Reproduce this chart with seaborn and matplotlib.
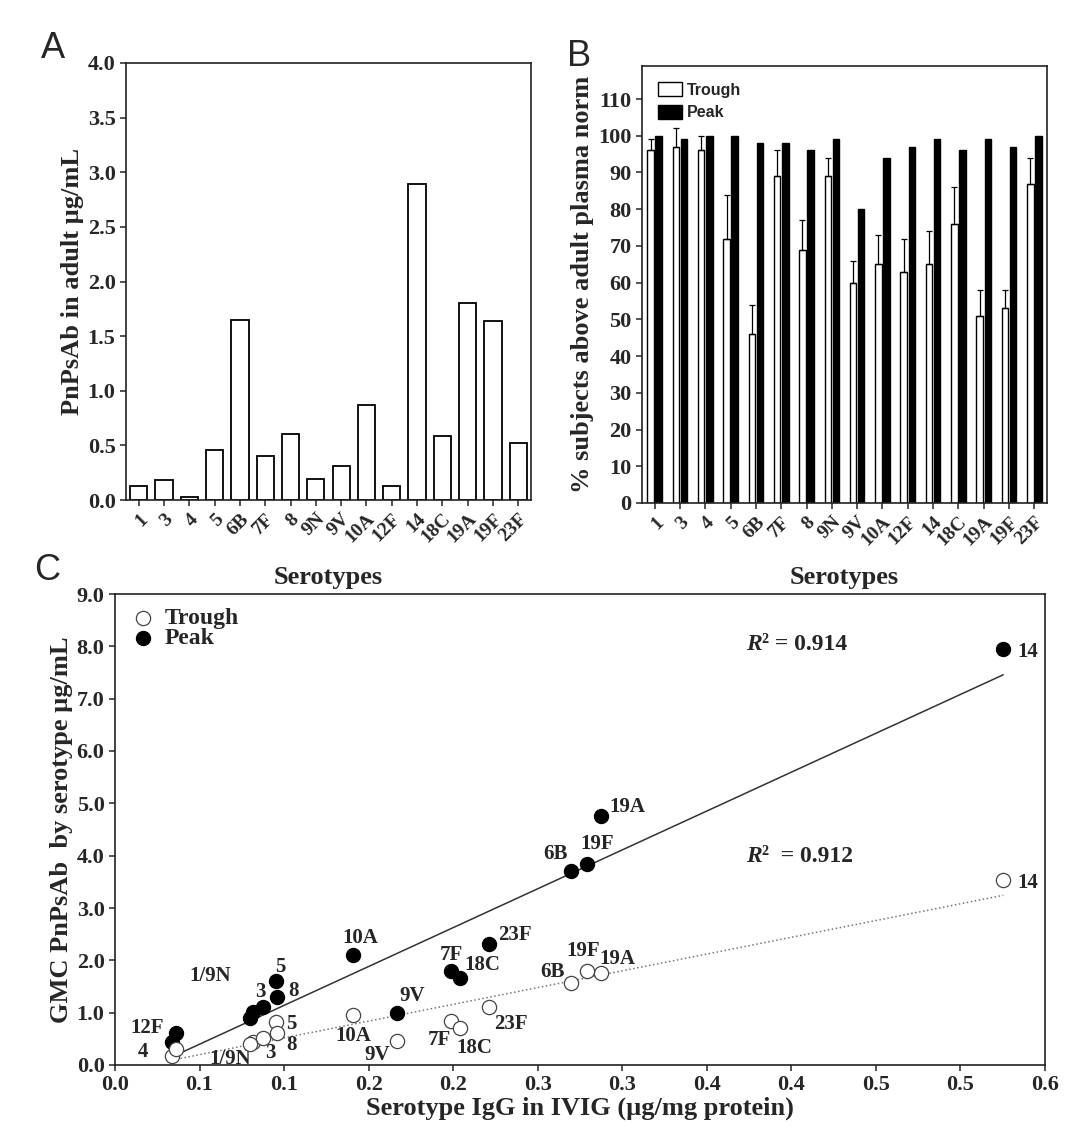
import numpy as np
import pandas as pd
import matplotlib
matplotlib.use('Agg')
import matplotlib.pyplot as plt
import seaborn as sns

# serotypes shared by all three panels
serotypes = ['1', '3', '4', '5', '6B', '7F', '8', '9N', '9V', '10A', '12F', '14', '18C', '19A', '19F', '23F']

# A: adult plasma norm (ug/mL)
adult_norm = [0.13, 0.18, 0.03, 0.46, 1.65, 0.40, 0.60, 0.19, 0.31, 0.87, 0.13, 2.89, 0.59, 1.80, 1.64, 0.52]

# B: % subjects above adult norm
pct_trough = [96, 97, 96, 72, 46, 89, 69, 89, 60, 65, 63, 65, 76, 51, 53, 87]
pct_trough_err = [3, 5, 4, 12, 8, 7, 8, 5, 6, 8, 9, 9, 10, 7, 5, 7]
pct_peak = [100, 99, 100, 100, 98, 98, 96, 99, 80, 94, 97, 99, 96, 99, 97, 100]

# C: serotype IgG in IVIG vs GMC
igg_ivig = [0.0815, 0.0877, 0.034, 0.0952, 0.2697, 0.1987, 0.0956, 0.080, 0.1668, 0.1409,
            0.0361, 0.5253, 0.2042, 0.2874, 0.2793, 0.2210]
gmc_peak = [1.02, 1.10, 0.44, 1.61, 3.71, 1.79, 1.30, 0.89, 1.00, 2.10, 0.62, 7.94, 1.67, 4.75, 3.85, 2.32]
gmc_trough = [0.44, 0.52, 0.17, 0.83, 1.56, 0.84, 0.62, 0.40, 0.46, 0.95, 0.30, 3.54, 0.70, 1.76, 1.80, 1.11]
r2_peak = '0.914'
r2_trough = '0.912'
c_xtick_labels = ['0.0', '0.1', '0.1', '0.2', '0.2', '0.3', '0.3', '0.4', '0.4', '0.5', '0.5', '0.6']

sns.set_style('ticks')
plt.rcParams['font.family'] = ['Liberation Serif', 'DejaVu Serif']
plt.rcParams['font.weight'] = 'bold'
plt.rcParams['axes.labelweight'] = 'bold'
plt.rcParams['axes.linewidth'] = 1.2
plt.rcParams['axes.edgecolor'] = '#222222'

W, H = 1075, 1134
fig = plt.figure(figsize=(W / 100, H / 100), dpi=100)


def px_axes(left, top, right, bottom):
    return fig.add_axes([left / W, 1 - bottom / H, (right - left) / W, (bottom - top) / H])


axA = px_axes(126, 63, 531, 500)
axB = px_axes(642, 66, 1047, 503)
axC = px_axes(115, 594, 1045, 1065)

tick_fs = 16
label_fs = 19

# ---- Panel A
dfA = pd.DataFrame({'Serotype': serotypes, 'PnPsAb': adult_norm})
sns.barplot(data=dfA, x='Serotype', y='PnPsAb', color='white', edgecolor='black',
            linewidth=1.3, width=0.68, ax=axA)
axA.set_ylim(0, 4.0)
axA.set_xlim(-0.5, len(serotypes) - 0.5)
axA.set_yticks(np.arange(0, 4.01, 0.5))
axA.set_yticklabels([f'{v:.1f}' for v in np.arange(0, 4.01, 0.5)])
axA.set_ylabel('PnPsAb in adult µg/mL', fontsize=label_fs, labelpad=3)
axA.set_xlabel('Serotypes', fontsize=label_fs, labelpad=14)

# ---- Panel B
dfB = pd.DataFrame({
    'Serotype': serotypes * 2,
    'Phase': ['Trough'] * len(serotypes) + ['Peak'] * len(serotypes),
    'Percent': pct_trough + pct_peak,
})
sns.barplot(data=dfB, x='Serotype', y='Percent', hue='Phase',
            palette={'Trough': 'white', 'Peak': 'black'}, edgecolor='black',
            linewidth=1.0, width=0.64, gap=0.2, errorbar=None, ax=axB)
trough_bars = axB.containers[0]
xc = [b.get_x() + b.get_width() / 2 for b in trough_bars]
axB.errorbar(xc, pct_trough, yerr=[np.zeros(len(pct_trough)), pct_trough_err],
             fmt='none', ecolor='black', elinewidth=0.9, capsize=2.5, capthick=0.9)
axB.set_ylim(0, 119)
axB.set_xlim(-0.5, len(serotypes) - 0.5)
axB.set_yticks(np.arange(0, 111, 10))
axB.set_ylabel('% subjects above adult plasma norm', fontsize=label_fs, labelpad=3)
axB.set_xlabel('Serotypes', fontsize=label_fs, labelpad=12)
axB.legend(loc='upper left', frameon=False, prop={'family': 'Liberation Sans', 'size': 11.5},
           handlelength=1.5, handleheight=1.0, labelspacing=0.45, handletextpad=0.3,
           borderaxespad=0.6, title=None)

for ax in (axA, axB):
    for s in ax.spines.values():
        s.set_visible(True)
    ax.tick_params(axis='both', direction='out', length=4, width=1.1, labelsize=tick_fs,
                   top=False, right=False)
    for lab in ax.get_xticklabels():
        lab.set_rotation(45)
        lab.set_ha('right')
        lab.set_rotation_mode('anchor')
        lab.set_fontsize(14)

# ---- Panel C
dfC = pd.DataFrame({'Serotype': serotypes, 'IgG': igg_ivig,
                    'Peak': gmc_peak, 'Trough': gmc_trough})
sns.regplot(data=dfC, x='IgG', y='Peak', scatter=False, ci=None, truncate=True,
            line_kws={'color': '#333333', 'lw': 1.1, 'ls': '-'}, ax=axC)
sns.regplot(data=dfC, x='IgG', y='Trough', scatter=False, ci=None, truncate=True,
            line_kws={'color': '#777777', 'lw': 1.1, 'ls': ':'}, ax=axC)
sns.scatterplot(data=dfC, x='IgG', y='Peak', color='black', edgecolor='black', s=105,
                linewidth=0.8, label='Peak', ax=axC, zorder=3)
sns.scatterplot(data=dfC, x='IgG', y='Trough', color='white', edgecolor='#444444', s=105,
                linewidth=0.9, label='Trough', ax=axC, zorder=4)

axC.set_xlim(0, 0.55)
axC.set_ylim(0, 9.0)
axC.set_xticks(np.linspace(0, 0.55, 12))
axC.set_xticklabels(c_xtick_labels)
axC.set_yticks(np.arange(0, 9.01, 1.0))
axC.set_yticklabels([f'{v:.1f}' for v in np.arange(0, 9.01, 1.0)])
axC.set_xlabel('Serotype IgG in IVIG (µg/mg protein)', fontsize=label_fs, labelpad=1)
axC.set_ylabel('GMC PnPsAb  by serotype µg/mL', fontsize=label_fs, labelpad=3)
for s in axC.spines.values():
    s.set_visible(True)
axC.tick_params(axis='both', direction='out', length=4, width=1.1, labelsize=tick_fs,
                top=False, right=False)

h, l = axC.get_legend_handles_labels()
order = [l.index('Trough'), l.index('Peak')]
axC.legend([h[i] for i in order], [l[i] for i in order], loc='upper left',
           bbox_to_anchor=(-0.005, 1.012), frameon=False,
           prop={'size': 17, 'weight': 'bold'}, handlelength=1.2, handletextpad=0.3,
           labelspacing=-0.05, borderaxespad=0.4, markerscale=1.0)

# point labels (offsets in points)
peak_offsets = {'1': (-31, 26), '3': (-2, 11), '4': (-21, -7), '5': (3, 10), '6B': (-11, 12),
                '7F': (0, 12), '8': (12, 4), '9V': (11, 12), '10A': (5, 12), '12F': (-21, 3),
                '14': (18, -2), '18C': (16, 9), '19A': (19, 7), '19F': (7, 14), '23F': (19, 6)}
trough_offsets = {'1': (-16, -12), '3': (5, -11), '5': (11, -2), '6B': (-13, 8), '7F': (-8, -14),
                  '8': (11, -9), '9V': (-14, -10), '10A': (0, -15), '14': (18, -2), '18C': (10, -14),
                  '19A': (12, 10), '19F': (-3, 14), '23F': (16, -12)}
lbl = {'1': '1/9N'}
for i, st in enumerate(serotypes):
    if st in peak_offsets:
        axC.annotate(lbl.get(st, st), (igg_ivig[i], gmc_peak[i]), xytext=peak_offsets[st],
                     textcoords='offset points', ha='center', va='center', fontsize=15)
    if st in trough_offsets:
        axC.annotate(lbl.get(st, st), (igg_ivig[i], gmc_trough[i]), xytext=trough_offsets[st],
                     textcoords='offset points', ha='center', va='center', fontsize=15)

for y, r2 in ((644, '² = ' + r2_peak), (857, '²  = ' + r2_trough)):
    t = fig.text(746 / W, 1 - y / H, 'R', fontsize=17, style='italic', weight='bold',
                 ha='left', va='center')
    axC.annotate(r2, xy=(1, 0.5), xycoords=t, ha='left', va='center', fontsize=17)

for letter, x, y in (('A', 53, 48), ('B', 579, 56), ('C', 47, 571)):
    fig.text(x / W, 1 - y / H, letter, fontsize=26, family='Liberation Sans',
             weight='normal', ha='center', va='center')

fig.savefig('out.png', dpi=100)
